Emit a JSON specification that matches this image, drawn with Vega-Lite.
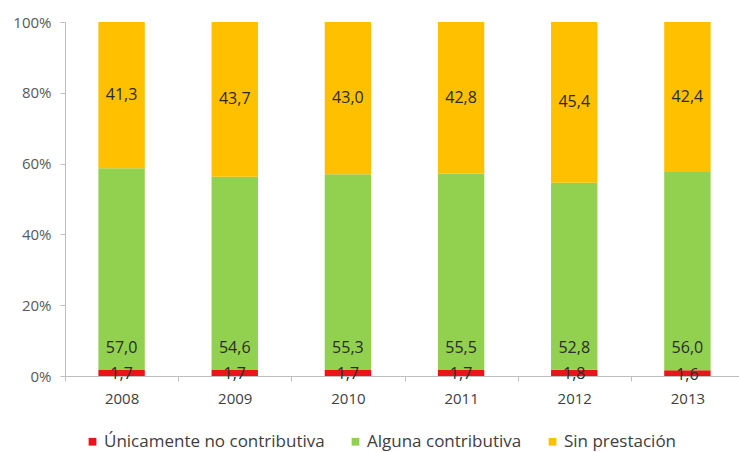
{
  "$schema": "https://vega.github.io/schema/vega-lite/v6.json",
  "width": 679,
  "height": 354,
  "autosize": "none",
  "padding": {"left": 65, "top": 22, "right": 0, "bottom": 76},
  "background": "white",
  "config": {
    "locale": {"number": {"decimal": ",", "thousands": ".", "grouping": [3], "currency": ["", " €"]}},
    "view": {"stroke": null},
    "font": "Open Sans"
  },
  "data": {
    "values": [
      {"anio": "2008", "serie": "Únicamente no contributiva", "valor": 1.7},
      {"anio": "2008", "serie": "Alguna contributiva", "valor": 57.0},
      {"anio": "2008", "serie": "Sin prestación", "valor": 41.3},
      {"anio": "2009", "serie": "Únicamente no contributiva", "valor": 1.7},
      {"anio": "2009", "serie": "Alguna contributiva", "valor": 54.6},
      {"anio": "2009", "serie": "Sin prestación", "valor": 43.7},
      {"anio": "2010", "serie": "Únicamente no contributiva", "valor": 1.7},
      {"anio": "2010", "serie": "Alguna contributiva", "valor": 55.3},
      {"anio": "2010", "serie": "Sin prestación", "valor": 43.0},
      {"anio": "2011", "serie": "Únicamente no contributiva", "valor": 1.7},
      {"anio": "2011", "serie": "Alguna contributiva", "valor": 55.5},
      {"anio": "2011", "serie": "Sin prestación", "valor": 42.8},
      {"anio": "2012", "serie": "Únicamente no contributiva", "valor": 1.8},
      {"anio": "2012", "serie": "Alguna contributiva", "valor": 52.8},
      {"anio": "2012", "serie": "Sin prestación", "valor": 45.4},
      {"anio": "2013", "serie": "Únicamente no contributiva", "valor": 1.6},
      {"anio": "2013", "serie": "Alguna contributiva", "valor": 56.0},
      {"anio": "2013", "serie": "Sin prestación", "valor": 42.4}
    ]
  },
  "transform": [
    {"calculate": "indexof(['Únicamente no contributiva','Alguna contributiva','Sin prestación'], datum.serie)", "as": "orden"},
    {"stack": "valor", "groupby": ["anio"], "sort": [{"field": "orden", "order": "ascending"}], "as": ["v0", "v1"]},
    {"calculate": "datum.orden == 1 ? datum.v0 + 6.2 : datum.orden == 0 ? (datum.v0 + datum.v1) / 2 - 0.4 : (datum.v0 + datum.v1) / 2", "as": "pos"}
  ],
  "encoding": {
    "x": {
      "field": "anio",
      "type": "ordinal",
      "scale": {"paddingInner": 0, "paddingOuter": 0},
      "axis": {
        "title": null,
        "labelAngle": 0,
        "tickBand": "extent",
        "domainColor": "#bfbfbf",
        "tickColor": "#bfbfbf",
        "tickSize": 5,
        "labelFontSize": 15,
        "labelColor": "#404040",
        "labelPadding": 10
      }
    }
  },
  "layer": [
    {
      "mark": {"type": "bar", "width": {"band": 0.41}},
      "encoding": {
        "y": {
          "field": "v0",
          "type": "quantitative",
          "scale": {"domain": [0, 100]},
          "axis": {
            "title": null,
            "values": [0, 20, 40, 60, 80, 100],
            "labelExpr": "datum.value + '%'",
            "grid": false,
            "domainColor": "#bfbfbf",
            "tickColor": "#bfbfbf",
            "tickSize": 5,
            "labelFontSize": 15,
            "labelColor": "#595959",
            "labelPadding": 9
          }
        },
        "y2": {"field": "v1"},
        "color": {
          "field": "serie",
          "type": "nominal",
          "scale": {
            "domain": ["Únicamente no contributiva", "Alguna contributiva", "Sin prestación"],
            "range": ["#e8161b", "#92d050", "#ffc000"]
          },
          "legend": {
            "title": null,
            "orient": "none",
            "direction": "horizontal",
            "legendX": 19,
            "legendY": 411,
            "symbolType": "square",
            "symbolSize": 60,
            "symbolStrokeWidth": 0,
            "labelFontSize": 17,
            "labelLimit": 400,
            "labelOffset": 3,
            "labelColor": "#404040",
            "columnPadding": 22
          }
        }
      }
    },
    {
      "mark": {"type": "text", "fontSize": 16, "color": "#2b2b2b", "baseline": "middle"},
      "encoding": {
        "y": {"field": "pos", "type": "quantitative"},
        "text": {"field": "valor", "type": "quantitative", "format": ".1f"}
      }
    }
  ]
}
